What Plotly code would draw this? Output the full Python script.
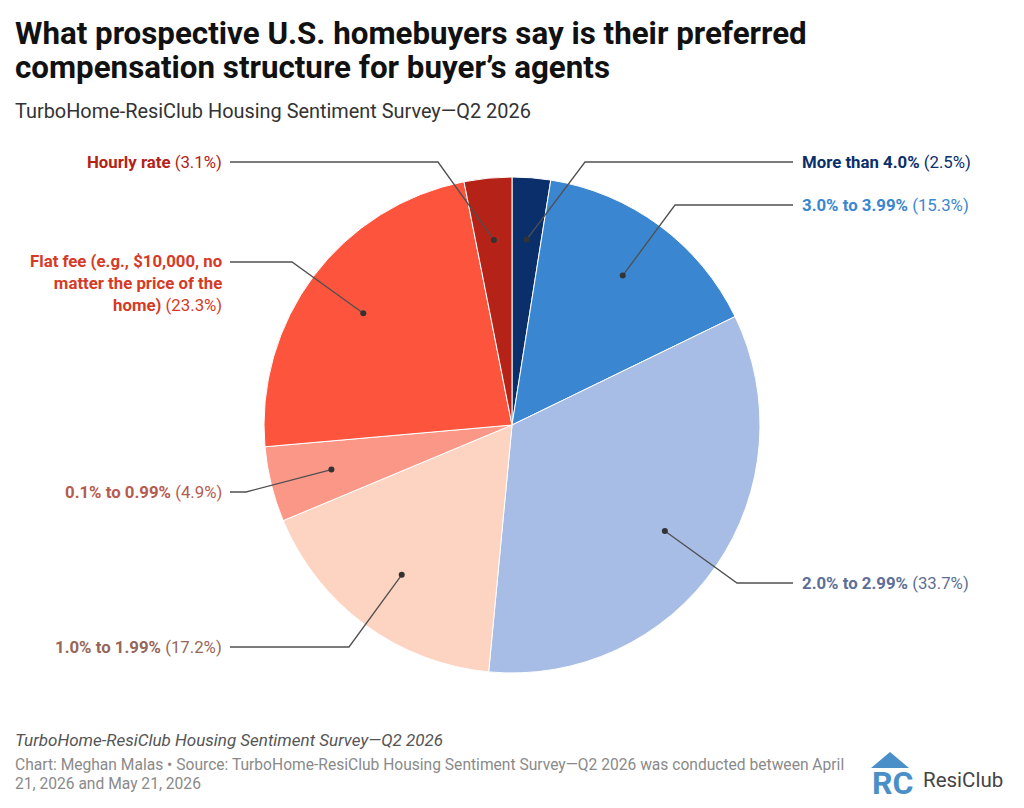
import math
import plotly.graph_objects as go

# ---- data ----
categories = ["More than 4.0%", "3.0% to 3.99%", "2.0% to 2.99%", "1.0% to 1.99%",
              "0.1% to 0.99%", "Flat fee (e.g., $10,000, no<br>matter the price of the<br>home)",
              "Hourly rate"]
values = [2.5, 15.3, 33.7, 17.2, 4.9, 23.3, 3.1]
slice_colors = ["#0b2f6b", "#3a86d1", "#a8bde6", "#fdd3c2", "#fb9787", "#fd553d", "#b42218"]
label_colors = ["#0b2f6b", "#3a86d1", "#5d6f97", "#95675a", "#b65b50", "#d63a26", "#b42218"]

title_lines = ["What prospective U.S. homebuyers say is their preferred",
               "compensation structure for buyer’s agents"]
subtitle = "TurboHome-ResiClub Housing Sentiment Survey—Q2 2026"
footer_italic = "TurboHome-ResiClub Housing Sentiment Survey—Q2 2026"
footer_lines = ["Chart: Meghan Malas • Source: TurboHome-ResiClub Housing Sentiment Survey—Q2 2026 was conducted between April",
                "21, 2026 and May 21, 2026"]

# ---- layout (pixels) ----
W, H = 1024, 808
CX, CY, R = 512, 425, 248
DOT_FRAC = 0.75
elbows = [(585, 162), (675, 205), (737, 583), (349, 647), (246, 492), (292, 262), (438, 162)]
line_ends = [793, 793, 793, 230, 230, 230, 230]
label_x = [800, 800, 800, 222, 222, 222, 222]
LABEL_SIZE = 16.8

def px(x):
    return x / W

def py(y):
    return 1 - y / H

fig = go.Figure()
fig.add_trace(go.Pie(
    labels=categories, values=values, sort=False, direction="clockwise", rotation=0,
    marker=dict(colors=slice_colors, line=dict(color="white", width=1)),
    textinfo="none", hoverinfo="label+percent", showlegend=False,
    domain=dict(x=[px(CX - R), px(CX + R)], y=[py(CY + R), py(CY - R)]),
))

shapes = []
annotations = []
total = sum(values)
cum = 0
for i, v in enumerate(values):
    mid = (cum + v / 2) / total
    cum += v
    th = 2 * math.pi * mid
    dx = CX + DOT_FRAC * R * math.sin(th)
    dy = CY - DOT_FRAC * R * math.cos(th)
    ex, ey = elbows[i]
    lx = line_ends[i]
    shapes.append(dict(type="path", xref="paper", yref="paper",
                       path=f"M {px(dx)},{py(dy)} L {px(ex)},{py(ey)} L {px(lx)},{py(ey)}",
                       line=dict(color="#505050", width=1.3)))
    shapes.append(dict(type="circle", xref="paper", yref="paper",
                       x0=px(dx - 3), x1=px(dx + 3), y0=py(dy + 3), y1=py(dy - 3),
                       fillcolor="#333333", line=dict(width=0)))
    right = label_x[i] > CX
    text = f"<b>{categories[i]}</b> ({v}%)"
    nlines = categories[i].count("<br>") + 1
    annotations.append(dict(
        x=px(label_x[i] + (0 if right else 2)), y=py(ey - 13) if nlines > 1 else py(ey),
        xref="paper", yref="paper", showarrow=False,
        xanchor="left" if right else "right",
        yanchor="top" if nlines > 1 else "middle",
        align="left" if right else "right",
        text=text, font=dict(family="Roboto", size=LABEL_SIZE, color=label_colors[i]),
    ))

# titles
annotations.append(dict(x=px(13), y=py(33), xref="paper", yref="paper", showarrow=False,
                        xanchor="left", yanchor="middle", text=f"<b>{title_lines[0]}</b>",
                        font=dict(family="Roboto", size=31.3, color="#111111")))
annotations.append(dict(x=px(13), y=py(68), xref="paper", yref="paper", showarrow=False,
                        xanchor="left", yanchor="middle", text=f"<b>{title_lines[1]}</b>",
                        font=dict(family="Roboto", size=31.3, color="#111111")))
annotations.append(dict(x=px(13), y=py(111), xref="paper", yref="paper", showarrow=False,
                        xanchor="left", yanchor="middle", text=subtitle,
                        font=dict(family="Roboto", size=19.9, color="#333333")))
# footer
annotations.append(dict(x=px(13), y=py(740), xref="paper", yref="paper", showarrow=False,
                        xanchor="left", yanchor="middle", text=f"<i>{footer_italic}</i>",
                        font=dict(family="Roboto", size=17, color="#555555")))
annotations.append(dict(x=px(13), y=py(765), xref="paper", yref="paper", showarrow=False,
                        xanchor="left", yanchor="middle", text=footer_lines[0],
                        font=dict(family="Roboto", size=15.6, color="#8a8a8a")))
annotations.append(dict(x=px(13), y=py(784), xref="paper", yref="paper", showarrow=False,
                        xanchor="left", yanchor="middle", text=footer_lines[1],
                        font=dict(family="Roboto", size=15.6, color="#8a8a8a")))
# logo
shapes.append(dict(type="path", xref="paper", yref="paper",
                   path=f"M {px(871)},{py(768)} L {px(890)},{py(752)} L {px(909)},{py(768)} Z",
                   fillcolor="#4a8fc7", line=dict(width=0)))
annotations.append(dict(x=px(870), y=py(783), xref="paper", yref="paper", showarrow=False,
                        xanchor="left", yanchor="middle", text="<b>RC</b>",
                        font=dict(family="Roboto", size=32, color="#4a8fc7")))
annotations.append(dict(x=px(921), y=py(780), xref="paper", yref="paper", showarrow=False,
                        xanchor="left", yanchor="middle", text="ResiClub",
                        font=dict(family="Roboto", size=20.5, color="#444444")))

fig.update_layout(width=W, height=H, margin=dict(l=0, r=0, t=0, b=0),
                  paper_bgcolor="white", plot_bgcolor="white",
                  shapes=shapes, annotations=annotations)
fig.write_html("out.html", config={"displayModeBar": False},
               post_script="document.body.style.margin='0';")
